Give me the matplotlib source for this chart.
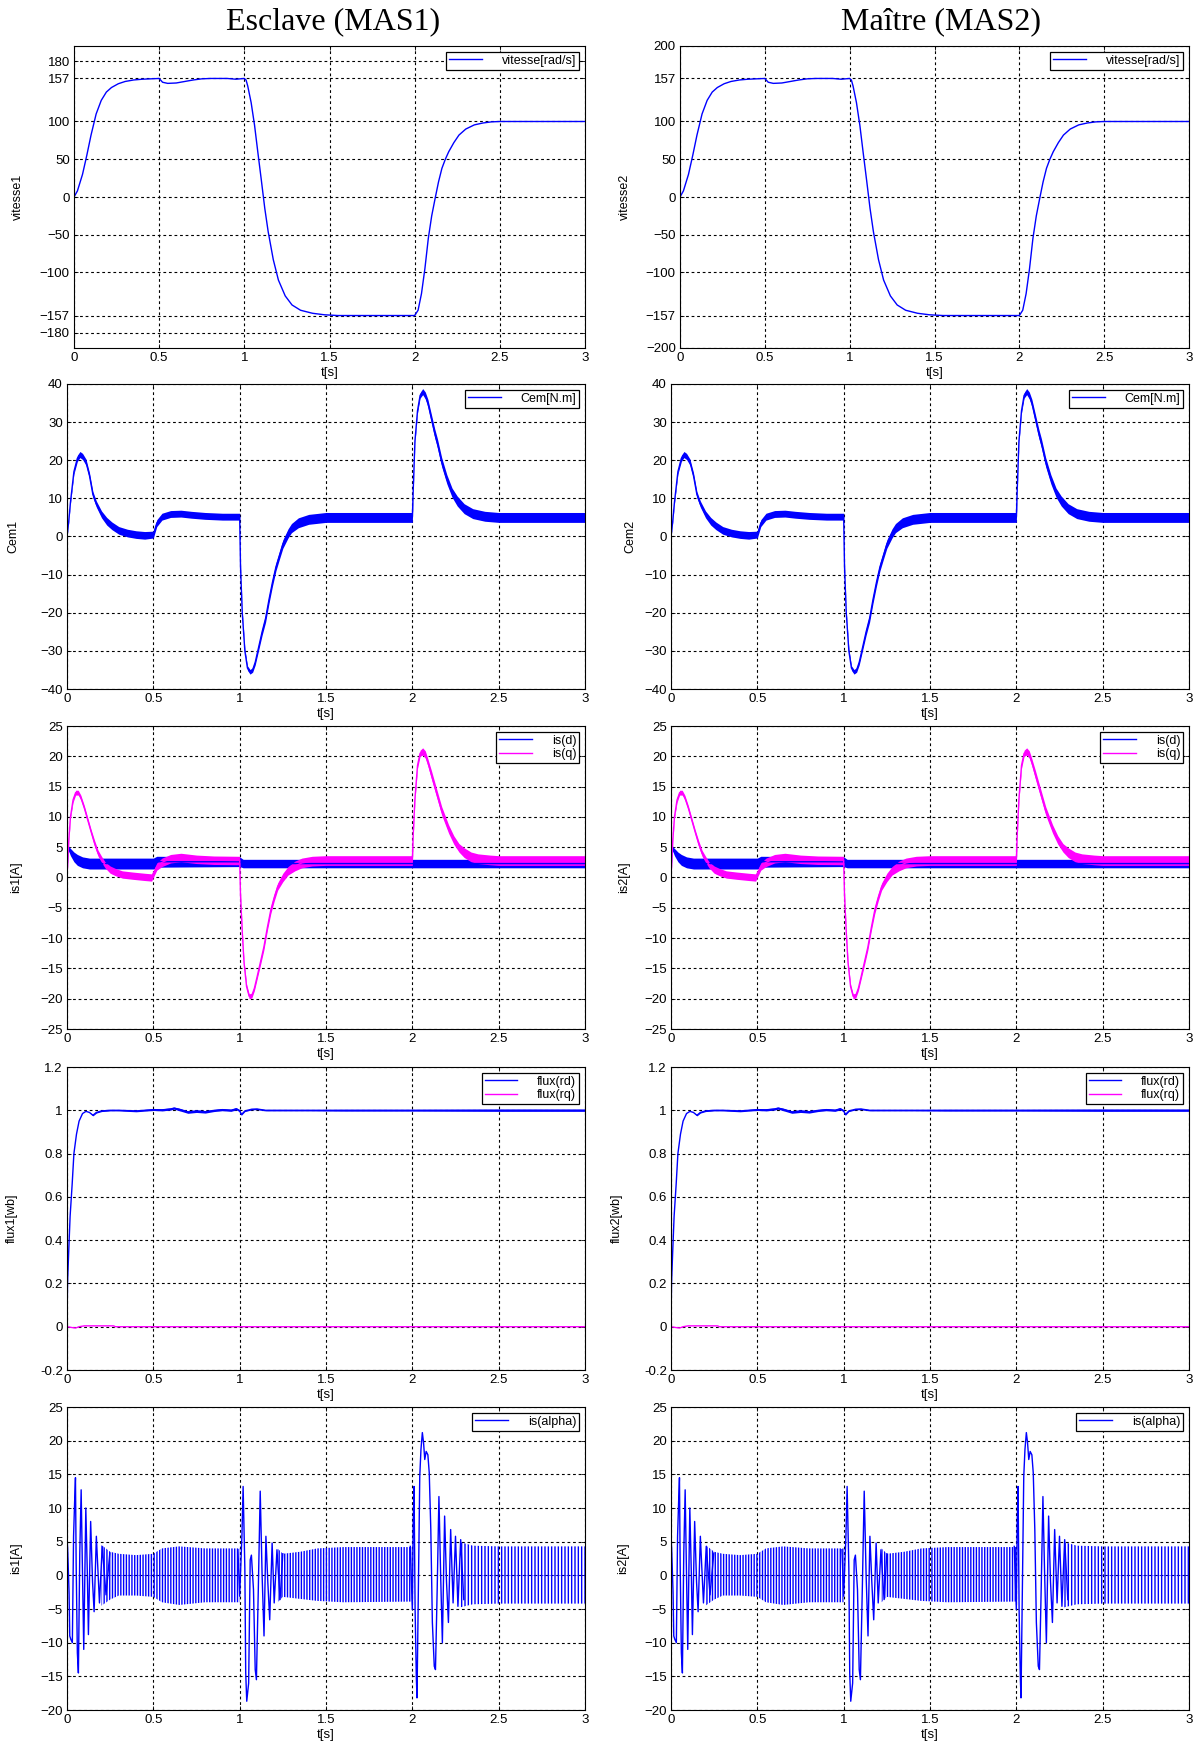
import numpy as np
import matplotlib
matplotlib.use("Agg")
import matplotlib.pyplot as plt

plt.rcParams['font.family'] = ['Liberation Sans', 'DejaVu Sans']
plt.rcParams['hatch.linewidth'] = 1.0

BLUE = '#0000ff'
MAGENTA = '#ff00ff'

# ---------------- speed [rad/s] ----------------
speed_t = [0, 0.02, 0.05, 0.075, 0.1, 0.13, 0.16, 0.19, 0.22, 0.26, 0.3, 0.35, 0.4, 0.45,
           0.5, 0.52, 0.55, 0.6, 0.65, 0.7, 0.75, 0.8, 0.9, 0.95,
           1.0, 1.01, 1.02, 1.04, 1.06, 1.08, 1.1, 1.12, 1.14, 1.17, 1.2, 1.24, 1.28, 1.33,
           1.4, 1.47, 1.55, 2.0,
           2.02, 2.04, 2.06, 2.08, 2.1, 2.12, 2.14, 2.16, 2.18, 2.2, 2.23, 2.26, 2.3, 2.35,
           2.4, 2.45, 2.5, 3.0]
speed_v = [0, 8, 30, 55, 82, 110, 128, 139, 145, 150, 153, 155, 156, 156.5,
           157, 152, 150.5, 151, 153, 155, 156.5, 157, 157, 156,
           157, 155, 147, 125, 95, 58, 22, -15, -46, -83, -110, -131, -143, -150,
           -154, -156, -157, -157,
           -150, -128, -95, -55, -25, -2, 20, 38, 50, 60, 72, 82, 90, 95.5,
           98, 99.5, 100, 100]

# ---------------- electromagnetic torque [N.m] ----------------
cem_t = [0, 0.01, 0.02, 0.04, 0.06, 0.075, 0.09, 0.11, 0.13, 0.15, 0.17, 0.2, 0.23, 0.26,
         0.3, 0.35, 0.4, 0.45, 0.5, 0.52, 0.55, 0.6, 0.66, 0.72, 0.8, 0.9, 1.0,
         1.005, 1.015, 1.03, 1.045, 1.06, 1.075, 1.09, 1.11, 1.13, 1.15, 1.17, 1.19, 1.21,
         1.23, 1.25, 1.28, 1.3, 1.34, 1.4, 1.5, 2.0,
         2.005, 2.015, 2.03, 2.045, 2.06, 2.075, 2.09, 2.11, 2.13, 2.145, 2.17, 2.2, 2.23,
         2.26, 2.3, 2.35, 2.42, 2.5, 3.0]
cem_v = [0, 4, 9, 17, 20.5, 21.5, 21, 19.5, 16, 11, 8.5, 5.8, 4, 2.8,
         1.6, 0.9, 0.5, 0.3, 0.5, 3.5, 5.2, 5.9, 6, 5.7, 5.4, 5.2, 5.2,
         -8, -20, -30, -34.5, -35.5, -35, -33, -29, -25, -21.5, -16.5, -12, -8,
         -5, -2, 0.8, 2.2, 3.6, 4.5, 5, 5,
         12, 25, 33, 37, 38, 37, 35, 31, 27, 24.5, 19.5, 15, 11.5,
         9.3, 7.3, 6, 5.3, 5, 5]
cem_w = [0.2, 0.3, 0.4, 0.6, 0.8, 0.8, 0.8, 0.8, 0.8, 0.8, 0.8, 0.9, 1.0, 1.0,
         1.0, 1.0, 1.0, 1.0, 0.9, 0.9, 0.9, 0.9, 0.9, 0.9, 0.9, 0.9, 0.9,
         0.5, 0.5, 0.6, 0.6, 0.6, 0.6, 0.7, 0.8, 0.9, 1.0, 1.0, 1.0, 1.0,
         1.0, 1.1, 1.2, 1.2, 1.3, 1.3, 1.3, 1.3,
         0.5, 0.5, 0.6, 0.7, 0.8, 0.9, 1.0, 1.1, 1.2, 1.2, 1.2, 1.2, 1.2,
         1.3, 1.3, 1.3, 1.3, 1.3, 1.3]

# ---------------- stator currents d / q [A] ----------------
isd_t = [0, 0.005, 0.02, 0.04, 0.06, 0.09, 0.13, 0.2, 0.5, 0.52, 1.0, 1.02, 2.0, 3.0]
isd_v = [0, 5, 4.2, 3.4, 2.9, 2.5, 2.3, 2.3, 2.3, 2.6, 2.6, 2.3, 2.3, 2.3]
isd_w = [0, 0.3, 0.6, 0.8, 0.9, 0.9, 0.9, 0.9, 0.9, 0.9, 0.8, 0.7, 0.7, 0.7]

isq_t = [0, 0.01, 0.02, 0.035, 0.05, 0.065, 0.08, 0.1, 0.12, 0.14, 0.16, 0.18, 0.2, 0.22,
         0.25, 0.28, 0.32, 0.38, 0.45, 0.49, 0.52, 0.55, 0.6, 0.66, 0.75, 0.85, 1.0,
         1.005, 1.015, 1.025, 1.04, 1.055, 1.07, 1.085, 1.1, 1.12, 1.14, 1.16, 1.18, 1.2,
         1.22, 1.25, 1.28, 1.32, 1.36, 1.42, 1.5, 2.0,
         2.005, 2.015, 2.03, 2.045, 2.06, 2.075, 2.09, 2.11, 2.13, 2.15, 2.17, 2.19, 2.21,
         2.24, 2.27, 2.3, 2.34, 2.38, 2.45, 2.5, 3.0]
isq_v = [0, 6, 10, 12.8, 14, 14, 13.2, 11.5, 9.5, 7.5, 5.6, 4, 3, 2.1,
         1.3, 0.9, 0.5, 0.3, 0.1, 0, 1.8, 2.5, 3.1, 3.3, 3.0, 2.85, 2.8,
         -3, -9, -14, -18, -19.6, -19.5, -18.3, -16.5, -14, -11.5, -8.3, -5.4, -3.3,
         -1.5, 0, 1.1, 1.9, 2.4, 2.7, 2.8, 2.8,
         7, 13, 18.5, 20.5, 20.8, 20.3, 19, 17, 15, 13, 11, 9.5, 8,
         6.2, 4.9, 4.1, 3.4, 3.1, 2.9, 2.8, 2.8]
isq_w = [0.2, 0.3, 0.3, 0.4, 0.4, 0.4, 0.4, 0.4, 0.4, 0.4, 0.5, 0.5, 0.5, 0.5,
         0.6, 0.6, 0.6, 0.6, 0.6, 0.6, 0.6, 0.7, 0.7, 0.7, 0.7, 0.7, 0.7,
         0.4, 0.4, 0.4, 0.4, 0.4, 0.4, 0.4, 0.4, 0.5, 0.5, 0.5, 0.6, 0.6,
         0.6, 0.7, 0.7, 0.8, 0.8, 0.8, 0.8, 0.8,
         0.4, 0.4, 0.5, 0.5, 0.6, 0.6, 0.6, 0.7, 0.7, 0.7, 0.7, 0.7, 0.7,
         0.7, 0.7, 0.8, 0.8, 0.8, 0.8, 0.8, 0.8]

# ---------------- rotor flux [Wb] ----------------
frd_t = [0, 0.003, 0.01, 0.018, 0.03, 0.04, 0.055, 0.07, 0.09, 0.11, 0.13, 0.15, 0.17, 0.2,
         0.25, 0.3, 0.4, 0.5, 0.55, 0.6, 0.62, 0.65, 0.7, 0.75, 0.8, 0.85, 0.9, 0.95, 0.98,
         1.0, 1.01, 1.03, 1.07, 1.1, 1.15, 1.25, 1.4, 1.6, 2.0, 2.5, 3.0]
frd_v = [0, 0.2, 0.35, 0.51, 0.66, 0.8, 0.89, 0.95, 0.985, 0.995, 0.99, 0.977, 0.99, 0.997,
         1.0, 1.0, 0.997, 1.003, 1.002, 1.006, 1.01, 1.004, 0.992, 0.996, 0.993, 0.999, 1.003,
         1.0, 1.007, 0.998, 0.98, 0.997, 1.005, 1.006, 1.0, 1.0, 1.0, 1.0, 1.0, 1.0, 1.0]
frd_w = [0, 0, 0, 0, 0, 0, 0, 0, 0, 0, 0, 0.003, 0.003, 0.003,
         0.003, 0.003, 0.004, 0.004, 0.005, 0.005, 0.005, 0.006, 0.006, 0.006, 0.006, 0.005,
         0.005, 0.005, 0.005, 0.005, 0.003, 0.003, 0.003, 0.003, 0.003, 0.003, 0.003, 0.004,
         0.004, 0.005, 0.005]

frq_t = [0, 0.03, 0.05, 0.07, 0.1, 0.27, 0.28, 3.0]
frq_v = [0, -0.004, -0.006, 0.0, 0.004, 0.004, 0, 0]

# ---------------- stator current alpha [A] ----------------
# transient swings after each speed reference change
alpha_t1 = [0, 0.004, 0.012, 0.016, 0.022, 0.031, 0.038, 0.044, 0.049, 0.053, 0.06, 0.066,
            0.074, 0.082, 0.088, 0.097, 0.109, 0.118, 0.124, 0.137, 0.148, 0.157, 0.17,
            0.188, 0.204, 0.226, 0.248]
alpha_v1 = [5.8, 3.8, -2.6, -9, -9.5, -10, 5.8, 10.8, 14.5, 1.8, -11.5, -14.5,
            3.3, 12.7, 3.0, -11, 10, 0, -8.8, 8, -1, -5.4, 5.8,
            -4.1, 4.3, -2.9, 3.3]
alpha_t2 = [0.99, 1.0, 1.013, 1.02, 1.03, 1.035, 1.041, 1.052, 1.061, 1.068, 1.08, 1.09,
            1.097, 1.108, 1.119, 1.13, 1.141, 1.152, 1.163, 1.174, 1.188, 1.2, 1.216,
            1.234, 1.25]
alpha_v2 = [3.8, -3.1, 5.8, 13.2, 1, -14.5, -18.7, -16, 2.3, 3.0, -2.1, -14,
            -15.5, -2, 12.5, 0, -9, 5.8, -1, -6.6, 4.8, -4.1, 3.8,
            -3.6, 3.2]
alpha_t3 = [1.988, 2.0, 2.005, 2.01, 2.016, 2.023, 2.027, 2.035, 2.043, 2.05, 2.058, 2.065,
            2.072, 2.08, 2.09, 2.098, 2.107, 2.116, 2.127, 2.134, 2.144, 2.154, 2.164,
            2.174, 2.187, 2.198, 2.209, 2.222, 2.236, 2.25, 2.264, 2.28, 2.298]
alpha_v3 = [4.3, -5.1, 7.8, 13.2, -5, -15, -18.2, -2, 14.7, 18.7, 21.2, 19.7,
            17.2, 18.4, 17.9, 15.2, 6.8, -7, -13.5, -14, -2, 11.7, 0,
            -10, 8.8, -1, -7, 6.8, -4.1, 5.8, -4.6, 5.3, -3.6]
# steady oscillation envelopes between the transients
env_t1 = [0.2, 0.25, 0.3, 0.4, 0.5, 0.55, 0.65, 0.8, 1.0]
env_hi1 = [4.5, 3.5, 3.2, 3.0, 3.2, 4.0, 4.3, 4.0, 4.0]
env_lo1 = [-4.5, -3.6, -3.0, -3.0, -3.2, -4.0, -4.4, -4.0, -4.0]
env_t2 = [1.22, 1.25, 1.35, 1.45, 1.6, 2.0]
env_hi2 = [4.0, 3.2, 3.5, 4.0, 4.2, 4.2]
env_lo2 = [-4.0, -3.2, -3.5, -3.8, -4.0, -3.9]
env_t3 = [2.27, 2.35, 2.5, 2.7, 3.0]
env_hi3 = [5.0, 4.4, 4.3, 4.3, 4.3]
env_lo3 = [-4.8, -4.3, -4.2, -4.2, -4.2]

t_ticks = [0, 0.5, 1, 1.5, 2, 2.5, 3]
t_ticklabels = ['0', '0.5', '1', '1.5', '2', '2.5', '3']

W, H = 1200, 1742
fig = plt.figure(figsize=(W / 100, H / 100), dpi=100)
fig.patch.set_facecolor('white')

rows = [(46, 348), (384, 689), (726, 1029), (1067, 1370), (1407, 1710)]
cols_row1 = [(74, 585), (680, 1189)]
cols_rest = [(67, 585), (671, 1189)]
ylabel_x = [[24, 19, 22, 18, 22], [631, 636, 630, 623, 629]]


def make_axes(col, row):
    x0, x1 = (cols_row1 if row == 0 else cols_rest)[col]
    y0, y1 = rows[row]
    ax = fig.add_axes([x0 / W, 1 - y1 / H, (x1 - x0) / W, (y1 - y0) / H])
    ax.set_xlim(0, 3)
    ax.set_xticks(t_ticks)
    ax.set_xticklabels(t_ticklabels)
    ax.grid(True, color='black', linestyle=(0, (2.5, 2.5)), linewidth=0.8)
    ax.set_axisbelow(True)
    ax.tick_params(direction='in', length=3, width=0.6, labelsize=9.5, pad=3,
                   top=True, right=True)
    for s in ax.spines.values():
        s.set_linewidth(0.8)
        s.set_color('black')
    ax.set_xlabel('t[s]', fontsize=9.5, labelpad=2)
    ax.yaxis.set_label_coords((ylabel_x[col][row] - x0) / (x1 - x0), 0.5)
    return ax


def legend(ax):
    leg = ax.legend(loc='upper right', fancybox=False, edgecolor='black', framealpha=1,
                    fontsize=9, handlelength=2.6, handletextpad=1.6, borderpad=0.25,
                    labelspacing=0.1, borderaxespad=0.45)
    leg.get_frame().set_linewidth(0.9)
    return leg


for col in range(2):
    k = col + 1

    # speed
    ax = make_axes(col, 0)
    ax.plot(speed_t, speed_v, color=BLUE, lw=1.0, label='vitesse[rad/s]')
    ax.set_ylim(-200, 200)
    if col == 0:
        ax.set_yticks([-180, -157, -100, -50, 0, 50, 100, 157, 180])
    else:
        ax.set_yticks([-200, -157, -100, -50, 0, 50, 100, 157, 200])
    ax.set_ylabel(f'vitesse{k}', fontsize=9)
    legend(ax)

    # torque
    ax = make_axes(col, 1)
    cv = np.array(cem_v)
    cw = np.array(cem_w)
    ax.fill_between(cem_t, cv - cw, cv + cw, color=BLUE, lw=0)
    ax.plot(cem_t, cem_v, color=BLUE, lw=1.0, label='Cem[N.m]')
    ax.set_ylim(-40, 40)
    ax.set_yticks(range(-40, 41, 10))
    ax.set_ylabel(f'Cem{k}', fontsize=9)
    legend(ax)

    # d/q currents
    ax = make_axes(col, 2)
    dv, dw = np.array(isd_v), np.array(isd_w)
    qv, qw = np.array(isq_v), np.array(isq_w)
    ax.fill_between(isd_t, dv - dw, dv + dw, color=BLUE, lw=0)
    ax.plot(isd_t, isd_v, color=BLUE, lw=1.0, label='is(d)')
    ax.fill_between(isq_t, qv - qw, qv + qw, color=MAGENTA, lw=0)
    ax.plot(isq_t, isq_v, color=MAGENTA, lw=1.0, label='is(q)')
    ax.set_ylim(-25, 25)
    ax.set_yticks(range(-25, 26, 5))
    ax.set_ylabel(f'is{k}[A]', fontsize=9)
    legend(ax)

    # flux
    ax = make_axes(col, 3)
    fv, fw = np.array(frd_v), np.array(frd_w)
    ax.fill_between(frd_t, fv - fw, fv + fw, color=BLUE, lw=0)
    ax.plot(frd_t, frd_v, color=BLUE, lw=1.0, label='flux(rd)')
    ax.plot(frq_t, frq_v, color=MAGENTA, lw=1.0, label='flux(rq)')
    ax.set_ylim(-0.2, 1.2)
    ax.set_yticks([-0.2, 0, 0.2, 0.4, 0.6, 0.8, 1, 1.2])
    ax.set_yticklabels(['-0.2', '0', '0.2', '0.4', '0.6', '0.8', '1', '1.2'])
    ax.set_ylabel(f'flux{k}[wb]', fontsize=9)
    legend(ax)

    # alpha current
    ax = make_axes(col, 4)
    for et, eh, el, hatch in [(env_t1, env_hi1, env_lo1, '||||||'),
                              (env_t2, env_hi2, env_lo2, '||||||'),
                              (env_t3, env_hi3, env_lo3, '|||||')]:
        ax.fill_between(et, el, eh, facecolor='none', edgecolor=BLUE, hatch=hatch, lw=0)
        ax.plot(et, [0] * len(et), color=BLUE, lw=0.6, alpha=0.5)
    ax.plot(alpha_t1, alpha_v1, color=BLUE, lw=1.0, label='is(alpha)')
    ax.plot(alpha_t2, alpha_v2, color=BLUE, lw=1.0)
    ax.plot(alpha_t3, alpha_v3, color=BLUE, lw=1.0)
    ax.set_ylim(-20, 25)
    ax.set_yticks(range(-20, 26, 5))
    ax.set_ylabel(f'is{k}[A]', fontsize=9)
    legend(ax)

fig.text(333 / W, 1 - 22 / H, 'Esclave (MAS1)', family=['Liberation Serif', 'DejaVu Serif'],
         fontsize=23, ha='center', va='center')
fig.text(941 / W, 1 - 22 / H, 'Maître (MAS2)', family=['Liberation Serif', 'DejaVu Serif'],
         fontsize=23, ha='center', va='center')

fig.savefig('out.png', dpi=100, facecolor='white')
